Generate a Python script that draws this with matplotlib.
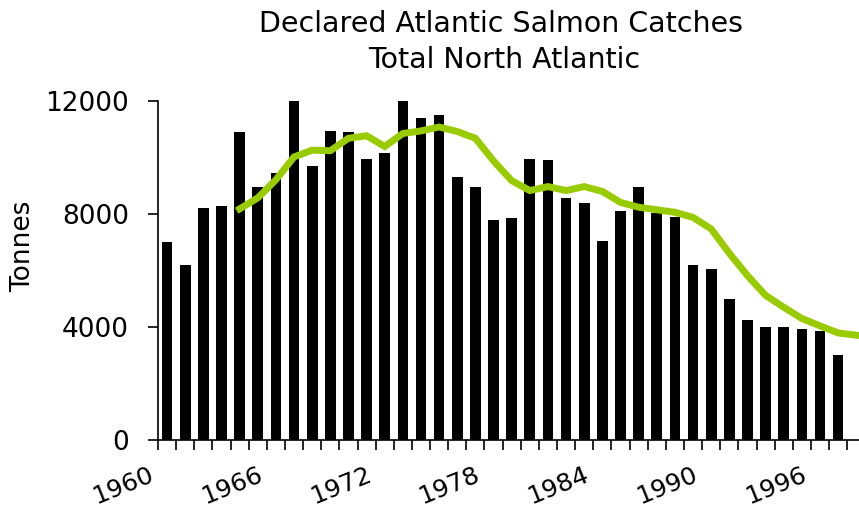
import numpy as np
import matplotlib.pyplot as plt
import matplotlib.transforms as mtransforms

plt.rcParams["font.family"] = ["DejaVu Sans"]

# declared catches, 1960-1997 (tonnes)
years = list(range(1960, 1998))
catch = [7000, 6200, 8200, 8300, 10900, 8950, 9450, 12000, 9700, 10950,
         10900, 9950, 10150, 12150, 11400, 11500, 9300, 8950, 7800, 7850,
         9950, 9900, 8550, 8400, 7050, 8100, 8950, 8050, 7900, 6200,
         6050, 5000, 4250, 4000, 4000, 3930, 3850, 3000]

# smoothed trend, 1964-1998
trend_years = list(range(1964, 1999))
trend = [8180, 8570, 9210, 10020, 10260, 10240, 10680, 10770, 10390, 10850,
         10940, 11080, 10920, 10680, 9880, 9180, 8830, 8970, 8830, 8970,
         8800, 8410, 8240, 8150, 8060, 7880, 7470, 6610, 5820, 5120,
         4700, 4300, 4040, 3790, 3710]

label_years = [1960, 1966, 1972, 1978, 1984, 1990, 1996]
yticks = [0, 4000, 8000, 12000]

fs = 19

fig = plt.figure(figsize=(8.59, 5.15), dpi=100)
ax = fig.add_axes([158 / 859, 75 / 515, 1 - 158 / 859, 339 / 515])

x = np.arange(len(years))
ax.bar(x, catch, width=0.59, color="black", zorder=2)

tx = np.array(trend_years) - years[0]
ax.plot(tx, trend, color="#99cc00", linewidth=5, solid_joinstyle="miter", zorder=3)

ax.set_xlim(-0.5, 38.15)
ax.set_ylim(0, 12000)
ax.set_yticks(yticks)
ax.set_yticklabels([str(v) for v in yticks], fontsize=fs)
ax.set_xticks(np.arange(-0.5, len(years) + 0.5, 1))
ax.set_xticklabels([])
ax.tick_params(axis="both", direction="out", length=7, width=1.2, color="black")
ax.tick_params(axis="y", pad=14)

for s in ["top", "right"]:
    ax.spines[s].set_visible(False)
for s in ["left", "bottom"]:
    ax.spines[s].set_linewidth(1.2)

# rotated year labels (kept just inside the bottom edge)
offset = mtransforms.ScaledTranslation(-19 / 100, -23 / 100, fig.dpi_scale_trans)
trans = ax.get_xaxis_transform() + offset
for yr in label_years:
    ax.text(yr - years[0], 0, str(yr), transform=trans, rotation=22,
            rotation_mode="anchor", ha="right", va="top", fontsize=18)

fig.text(23 / 859, 1 - 246 / 515, "Tonnes", rotation=90, ha="center", va="center", fontsize=fs)
fig.text(501 / 859, 1 - 31.7 / 515, "Declared Atlantic Salmon Catches", ha="center", va="baseline", fontsize=20.5)
fig.text(504 / 859, 1 - 68.3 / 515, "Total North Atlantic", ha="center", va="baseline", fontsize=20.5)

fig.savefig("out.png", dpi=100)
